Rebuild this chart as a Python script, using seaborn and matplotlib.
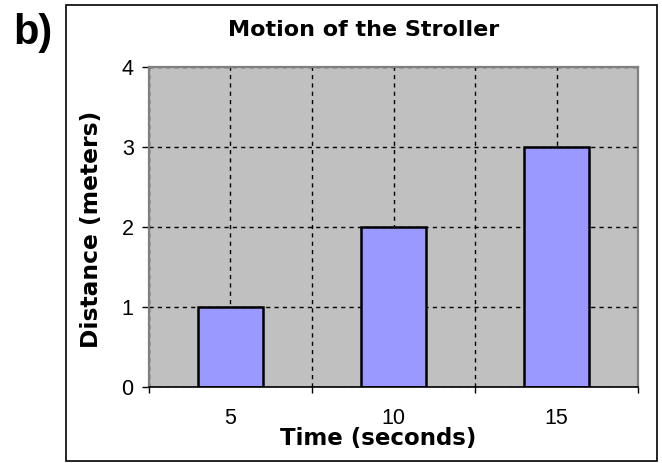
import matplotlib
matplotlib.use("Agg")
import matplotlib.pyplot as plt
import seaborn as sns
import pandas as pd
from matplotlib.patches import Rectangle

# data
times = ["5", "10", "15"]
distances = [1, 2, 3]
y_ticks = [0, 1, 2, 3, 4]

df = pd.DataFrame({"Time": times, "Distance": distances})

sns.set_style("white")
plt.rcParams["font.family"] = ["Liberation Sans", "DejaVu Sans"]
plt.rcParams["text.color"] = "black"
plt.rcParams["axes.labelcolor"] = "black"
plt.rcParams["xtick.color"] = "black"
plt.rcParams["ytick.color"] = "black"

fig = plt.figure(figsize=(6.62, 4.63), dpi=100)
ax = fig.add_axes([0.225, 0.164, 0.739, 0.691])

sns.barplot(data=df, x="Time", y="Distance", order=times, color="#9999ff",
            edgecolor="black", linewidth=1.8, width=0.4, saturation=1, ax=ax)

ax.set_facecolor("#c0c0c0")
ax.set_xlim(-0.5, 2.5)
ax.set_ylim(0, 4)
ax.set_yticks(y_ticks)
ax.set_xticks(range(len(times)))
ax.set_xticklabels(times)
ax.set_xticks([-0.5, 0.5, 1.5, 2.5], minor=True)

ax.grid(True, which="both", color="black", linestyle=(0, (3, 3)), linewidth=1)
ax.set_axisbelow(True)

ax.tick_params(axis="x", which="major", bottom=False, length=0, labelsize=15.5, pad=15)
ax.tick_params(axis="x", which="minor", bottom=True, length=4, width=1, direction="out")
ax.tick_params(axis="y", left=True, length=5, width=1, direction="out",
               labelsize=15.5, pad=6)

for side in ["top", "right", "left"]:
    ax.spines[side].set_color("#808080")
    ax.spines[side].set_linewidth(1.6)
ax.spines["bottom"].set_color("black")
ax.spines["bottom"].set_linewidth(1.2)

ax.set_xlabel("")
ax.set_ylabel("")
fig.text(0.55, 0.935, "Motion of the Stroller", fontsize=16, fontweight="bold",
         family="DejaVu Sans", ha="center", va="center")
fig.text(0.571, 0.052, "Time (seconds)", fontsize=16.5, fontweight="bold",
         family="DejaVu Sans", ha="center", va="center")
fig.text(0.1375, 0.505, "Distance (meters)", fontsize=16.8, fontweight="bold",
         family="DejaVu Sans", ha="center", va="center", rotation=90)

fig.text(0.049, 0.929, "b)", fontsize=30, fontweight="bold", ha="center", va="center")

fig.patches.append(Rectangle((0.0997, 0.0043), 0.893, 0.985, transform=fig.transFigure,
                             fill=False, edgecolor="black", linewidth=1.2))

plt.savefig("out.png", dpi=100)
